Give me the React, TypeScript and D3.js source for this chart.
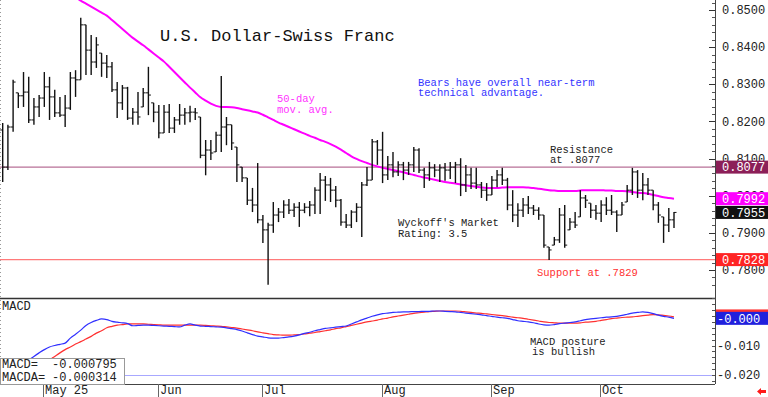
import React, { useEffect, useRef } from 'react';
import * as d3 from 'd3';

// daily USD/CHF bars, late April to late October
const opens = [
  0.8177, 0.8077, 0.8185, 0.8277, 0.8269, 0.8279, 0.8204, 0.8239, 0.8263, 0.8293,
  0.8266, 0.8223, 0.8217, 0.8236, 0.8317, 0.8312, 0.8460, 0.8392, 0.8360, 0.8384,
  0.8357, 0.8347, 0.8285, 0.8250, 0.8290, 0.8209, 0.8225, 0.8239, 0.8277, 0.8250,
  0.8225, 0.8169, 0.8225, 0.8182, 0.8204, 0.8217, 0.8223, 0.8225, 0.8212, 0.8109,
  0.8123, 0.8118, 0.8163, 0.8185, 0.8191, 0.8131, 0.8077, 0.8048, 0.7988, 0.7975,
  0.7935, 0.7908, 0.7921, 0.7948, 0.7956, 0.7975, 0.7961, 0.7969, 0.7961, 0.7969,
  0.7975, 0.8015, 0.8042, 0.8029, 0.8015, 0.7988, 0.7929, 0.7921, 0.7956, 0.7969,
  0.8029, 0.8042, 0.8145, 0.8123, 0.8056, 0.8083, 0.8064, 0.8083, 0.8069, 0.8083,
  0.8123, 0.8069, 0.8056, 0.8075, 0.8069, 0.8075, 0.8069, 0.8077, 0.8083, 0.8029,
  0.8056, 0.8034, 0.8029, 0.8015, 0.8002, 0.8042, 0.8056, 0.8042, 0.7975, 0.7948,
  0.7961, 0.7975, 0.7967, 0.7961, 0.7948, 0.7862, 0.7867, 0.7881, 0.7948, 0.7908,
  0.7929, 0.7943, 0.7994, 0.7980, 0.7961, 0.7953, 0.7975, 0.7961, 0.7956, 0.7948,
  0.7983, 0.8015, 0.8064, 0.8015, 0.8029, 0.8015, 0.7975, 0.7943, 0.7921, 0.7935,
];
const highs = [
  0.8196, 0.8191, 0.8312, 0.8277, 0.8333, 0.8320, 0.8263, 0.8271, 0.8333, 0.8320,
  0.8285, 0.8266, 0.8271, 0.8333, 0.8338, 0.8479, 0.8460, 0.8433, 0.8427, 0.8384,
  0.8379, 0.8360, 0.8306, 0.8298, 0.8293, 0.8236, 0.8279, 0.8290, 0.8347, 0.8250,
  0.8244, 0.8244, 0.8247, 0.8212, 0.8247, 0.8236, 0.8242, 0.8236, 0.8212, 0.8150,
  0.8150, 0.8172, 0.8322, 0.8212, 0.8191, 0.8131, 0.8077, 0.8048, 0.8021, 0.8088,
  0.7948, 0.7927, 0.7983, 0.7967, 0.7988, 0.7991, 0.7980, 0.7983, 0.7980, 0.7986,
  0.8023, 0.8061, 0.8053, 0.8048, 0.8026, 0.7991, 0.7951, 0.7961, 0.7980, 0.8037,
  0.8077, 0.8153, 0.8150, 0.8172, 0.8107, 0.8118, 0.8093, 0.8091, 0.8091, 0.8131,
  0.8128, 0.8075, 0.8091, 0.8085, 0.8085, 0.8088, 0.8091, 0.8091, 0.8101, 0.8083,
  0.8075, 0.8075, 0.8037, 0.8034, 0.8053, 0.8069, 0.8075, 0.8048, 0.8015, 0.7980,
  0.7994, 0.7999, 0.7975, 0.7969, 0.7948, 0.7862, 0.7889, 0.7967, 0.7975, 0.7940,
  0.7956, 0.8015, 0.8002, 0.7980, 0.7975, 0.7988, 0.7996, 0.8002, 0.7961, 0.7983,
  0.8029, 0.8075, 0.8069, 0.8061, 0.8048, 0.8015, 0.7983, 0.7943, 0.7967, 0.7956,
];
const lows = [
  0.8037, 0.8069, 0.8172, 0.8236, 0.8239, 0.8196, 0.8191, 0.8212, 0.8239, 0.8204,
  0.8212, 0.8212, 0.8185, 0.8231, 0.8266, 0.8312, 0.8325, 0.8325, 0.8344, 0.8320,
  0.8317, 0.8279, 0.8209, 0.8231, 0.8204, 0.8191, 0.8191, 0.8239, 0.8217, 0.8198,
  0.8155, 0.8169, 0.8169, 0.8169, 0.8191, 0.8191, 0.8198, 0.8204, 0.8101, 0.8055,
  0.8096, 0.8118, 0.8118, 0.8136, 0.8123, 0.8037, 0.8037, 0.7975, 0.7956, 0.7926,
  0.7873, 0.7760, 0.7900, 0.7929, 0.7940, 0.7951, 0.7943, 0.7916, 0.7953, 0.7945,
  0.7951, 0.7951, 0.7986, 0.7983, 0.7969, 0.7919, 0.7913, 0.7913, 0.7929, 0.7889,
  0.8026, 0.8042, 0.8083, 0.8034, 0.8042, 0.8050, 0.8053, 0.8042, 0.8056, 0.8064,
  0.8061, 0.8021, 0.8040, 0.8050, 0.8037, 0.8040, 0.8045, 0.8034, 0.7999, 0.8010,
  0.8018, 0.8018, 0.7994, 0.7986, 0.8002, 0.8023, 0.8029, 0.7961, 0.7929, 0.7916,
  0.7943, 0.7951, 0.7948, 0.7935, 0.7860, 0.7827, 0.7867, 0.7873, 0.7860, 0.7908,
  0.7913, 0.7943, 0.7967, 0.7940, 0.7935, 0.7929, 0.7948, 0.7948, 0.7902, 0.7948,
  0.7983, 0.8002, 0.7994, 0.7988, 0.8002, 0.7961, 0.7927, 0.7873, 0.7902, 0.7913,
];
const closes = [
  0.8077, 0.8185, 0.8306, 0.8269, 0.8279, 0.8204, 0.8239, 0.8263, 0.8293, 0.8266,
  0.8223, 0.8217, 0.8236, 0.8317, 0.8312, 0.8460, 0.8392, 0.8360, 0.8406, 0.8357,
  0.8347, 0.8285, 0.8250, 0.8290, 0.8209, 0.8225, 0.8212, 0.8277, 0.8271, 0.8225,
  0.8169, 0.8225, 0.8182, 0.8204, 0.8217, 0.8223, 0.8225, 0.8223, 0.8109, 0.8123,
  0.8115, 0.8163, 0.8185, 0.8191, 0.8142, 0.8083, 0.8048, 0.7988, 0.7975, 0.7935,
  0.7908, 0.7921, 0.7948, 0.7956, 0.7975, 0.7961, 0.7969, 0.7961, 0.7969, 0.7975,
  0.8015, 0.8042, 0.8029, 0.8015, 0.7988, 0.7929, 0.7921, 0.7956, 0.7969, 0.8029,
  0.8042, 0.8145, 0.8123, 0.8056, 0.8083, 0.8064, 0.8083, 0.8069, 0.8083, 0.8123,
  0.8069, 0.8056, 0.8075, 0.8069, 0.8075, 0.8069, 0.8077, 0.8083, 0.8029, 0.8056,
  0.8034, 0.8029, 0.8015, 0.8002, 0.8042, 0.8056, 0.8042, 0.7975, 0.7948, 0.7961,
  0.7975, 0.7967, 0.7961, 0.7948, 0.7867, 0.7854, 0.7881, 0.7948, 0.7867, 0.7929,
  0.7921, 0.7994, 0.7988, 0.7961, 0.7953, 0.7975, 0.7961, 0.7956, 0.7948, 0.7975,
  0.8015, 0.8064, 0.8015, 0.8029, 0.8015, 0.7975, 0.7948, 0.7921, 0.7935, 0.7955,
];

// 50-day moving average, first value belongs to bar maStart
const maStart = 14;
const ma50 = [
  0.8535, 0.8525, 0.8517, 0.8509, 0.8501, 0.8493, 0.8485, 0.8473, 0.8461, 0.8449,
  0.8437, 0.8425, 0.8415, 0.8405, 0.8394, 0.8383, 0.8372, 0.8361, 0.8347, 0.8333,
  0.8319, 0.8305, 0.8291, 0.8278, 0.8265, 0.8256, 0.8248, 0.8242, 0.8239, 0.8239,
  0.8238, 0.8236, 0.8233, 0.8230, 0.8227, 0.8224, 0.8218, 0.8211, 0.8204, 0.8197,
  0.8191, 0.8185, 0.8179, 0.8173, 0.8167, 0.8161, 0.8156, 0.8150, 0.8145, 0.8139,
  0.8132, 0.8124, 0.8115, 0.8106, 0.8099, 0.8093, 0.8088, 0.8083, 0.8079, 0.8075,
  0.8072, 0.8069, 0.8066, 0.8063, 0.8059, 0.8056, 0.8052, 0.8049, 0.8046, 0.8043,
  0.8040, 0.8037, 0.8035, 0.8033, 0.8030, 0.8028, 0.8026, 0.8024, 0.8022, 0.8021,
  0.8021, 0.8021, 0.8022, 0.8023, 0.8023, 0.8023, 0.8023, 0.8022, 0.8021, 0.8019,
  0.8017, 0.8015, 0.8014, 0.8013, 0.8013, 0.8013, 0.8013, 0.8014, 0.8015, 0.8015,
  0.8015, 0.8015, 0.8014, 0.8014, 0.8013, 0.8013, 0.8012, 0.8010, 0.8008, 0.8007,
  0.8005, 0.8002, 0.7999, 0.7996, 0.7994, 0.7992,
];

const macd = [
  -0.0210, -0.0200, -0.0188, -0.0175, -0.0162, -0.0150, -0.0137, -0.0125, -0.0114, -0.0105,
  -0.0100, -0.0096, -0.0092, -0.0075, -0.0062, -0.0048, -0.0032, -0.0022, -0.0015, -0.0010,
  -0.0012, -0.0018, -0.0021, -0.0023, -0.0026, -0.0033, -0.0032, -0.0031, -0.0031, -0.0032,
  -0.0033, -0.0034, -0.0035, -0.0036, -0.0037, -0.0031, -0.0027, -0.0031, -0.0034, -0.0035,
  -0.0036, -0.0037, -0.0038, -0.0040, -0.0043, -0.0046, -0.0051, -0.0057, -0.0063, -0.0068,
  -0.0071, -0.0074, -0.0075, -0.0075, -0.0073, -0.0071, -0.0068, -0.0064, -0.0059, -0.0055,
  -0.0050, -0.0046, -0.0042, -0.0040, -0.0038, -0.0036, -0.0034, -0.0027, -0.0020, -0.0013,
  -0.0007, -0.0001, 0.0004, 0.0008, 0.0010, 0.0012, 0.0013, 0.0014, 0.0014, 0.0015,
  0.0015, 0.0016, 0.0016, 0.0017, 0.0017, 0.0016, 0.0015, 0.0014, 0.0012, 0.0010,
  0.0008, 0.0006, 0.0004, 0.0001, -0.0001, -0.0004, -0.0006, -0.0008, -0.0012, -0.0016,
  -0.0018, -0.0020, -0.0023, -0.0027, -0.0030, -0.0031, -0.0029, -0.0026, -0.0024, -0.0022,
  -0.0020, -0.0016, -0.0012, -0.0010, -0.0008, -0.0006, -0.0004, -0.0003, -0.0001, 0.0002,
  0.0006, 0.0010, 0.0012, 0.0014, 0.0012, 0.0008, 0.0003, -0.0001, -0.0004, -0.0008,
];
const macdSignal = [
  -0.0235, -0.0228, -0.0220, -0.0210, -0.0199, -0.0189, -0.0180, -0.0172, -0.0160, -0.0149,
  -0.0137, -0.0125, -0.0114, -0.0105, -0.0095, -0.0087, -0.0078, -0.0069, -0.0058, -0.0050,
  -0.0040, -0.0035, -0.0031, -0.0029, -0.0027, -0.0027, -0.0027, -0.0027, -0.0028, -0.0029,
  -0.0030, -0.0031, -0.0031, -0.0031, -0.0031, -0.0031, -0.0031, -0.0031, -0.0031, -0.0032,
  -0.0033, -0.0034, -0.0035, -0.0037, -0.0039, -0.0041, -0.0044, -0.0047, -0.0050, -0.0054,
  -0.0057, -0.0060, -0.0063, -0.0064, -0.0065, -0.0065, -0.0064, -0.0063, -0.0061, -0.0058,
  -0.0056, -0.0053, -0.0050, -0.0047, -0.0043, -0.0040, -0.0036, -0.0032, -0.0028, -0.0024,
  -0.0020, -0.0017, -0.0014, -0.0010, -0.0007, -0.0003, 0.0000, 0.0003, 0.0006, 0.0009,
  0.0011, 0.0013, 0.0015, 0.0016, 0.0017, 0.0017, 0.0017, 0.0017, 0.0016, 0.0014,
  0.0012, 0.0010, 0.0009, 0.0007, 0.0005, 0.0003, 0.0001, -0.0001, -0.0004, -0.0006,
  -0.0008, -0.0011, -0.0014, -0.0017, -0.0020, -0.0022, -0.0023, -0.0024, -0.0024, -0.0024,
  -0.0024, -0.0023, -0.0021, -0.0020, -0.0018, -0.0015, -0.0012, -0.0009, -0.0007, -0.0005,
  -0.0004, -0.0003, -0.0001, 0.0001, 0.0003, 0.0005, 0.0004, 0.0002, 0.0000, -0.0003,
];
const macdReadout = -0.000795;
const macdaReadout = -0.000314;

const monthLabels = ['May 25', 'Jun', 'Jul', 'Aug', 'Sep', 'Oct'];
const monthStarts = [8, 30, 50, 73, 94, 115];

const priceTicks = [0.85, 0.84, 0.83, 0.82, 0.81, 0.80, 0.79, 0.78];
const macdTickValues = [-0.01, -0.02];
const macdTickLabels = ['-0.010', '-0.020'];

const resistance = 0.8077;
const support = 0.7828;

const FONT = '"Liberation Mono", "DejaVu Sans Mono", monospace';

function drawChart(node: SVGSVGElement) {
  const svg = d3.select(node);
  svg.selectAll('*').remove();

  const plotRight = 715;
  const priceBottom = 298;
  const macdBottom = 384;

  const x = d3.scaleLinear().domain([0, closes.length - 1]).range([2.7, 674]);
  const y = d3.scaleLinear().domain([0.78, 0.85]).range([270, 10]);
  const my = d3.scaleLinear().domain([-0.02, 0]).range([375, 316]);

  svg.append('rect').attr('width', 768).attr('height', 397).attr('fill', '#fff');

  const defs = svg.append('defs');
  defs.append('clipPath').attr('id', 'price-clip')
    .append('rect').attr('x', 0).attr('y', 0).attr('width', plotRight).attr('height', priceBottom);
  defs.append('clipPath').attr('id', 'macd-clip')
    .append('rect').attr('x', 0).attr('y', priceBottom + 1).attr('width', plotRight).attr('height', macdBottom - priceBottom - 1);

  // left dotted edge
  svg.append('line')
    .attr('x1', 0.5).attr('x2', 0.5).attr('y1', 0).attr('y2', macdBottom)
    .attr('stroke', '#999').attr('stroke-dasharray', '1,3');

  const price = svg.append('g').attr('clip-path', 'url(#price-clip)');

  // resistance / support
  price.append('line')
    .attr('x1', 0).attr('x2', plotRight).attr('y1', y(resistance)).attr('y2', y(resistance))
    .attr('stroke', '#b87097').attr('stroke-width', 1.2);
  price.append('line')
    .attr('x1', 0).attr('x2', plotRight).attr('y1', y(support)).attr('y2', y(support))
    .attr('stroke', '#ff7a7a').attr('stroke-width', 1.2);

  // 50-day MA
  const maLine = d3.line<number>()
    .x((d, i) => x(i + maStart))
    .y(d => y(d))
    .curve(d3.curveMonotoneX);
  price.append('path')
    .attr('d', maLine(ma50))
    .attr('fill', 'none').attr('stroke', '#ff00ff').attr('stroke-width', 2);

  // OHLC bars
  const bars = closes.map((c, i) => ({ i, o: opens[i], h: highs[i], l: lows[i], c }));
  const bg = price.append('g').attr('stroke', '#111').attr('stroke-width', 1.4);
  bg.selectAll('line.hl').data(bars).join('line').attr('class', 'hl')
    .attr('x1', d => x(d.i)).attr('x2', d => x(d.i))
    .attr('y1', d => y(d.h)).attr('y2', d => y(d.l));
  bg.selectAll('line.o').data(bars).join('line').attr('class', 'o')
    .attr('x1', d => x(d.i) - 2.5).attr('x2', d => x(d.i))
    .attr('y1', d => y(d.o)).attr('y2', d => y(d.o))
    .attr('stroke-width', 1);
  bg.selectAll('line.c').data(bars).join('line').attr('class', 'c')
    .attr('x1', d => x(d.i)).attr('x2', d => x(d.i) + 2.5)
    .attr('y1', d => y(d.c)).attr('y2', d => y(d.c))
    .attr('stroke-width', 1);

  // MACD panel
  const macdG = svg.append('g').attr('clip-path', 'url(#macd-clip)');
  macdG.append('line')
    .attr('x1', 0).attr('x2', plotRight).attr('y1', my(-0.02) + 0.5).attr('y2', my(-0.02) + 0.5)
    .attr('stroke', '#a8a8ff');
  const macdLine = d3.line<number>().x((d, i) => x(i)).y(d => my(d)).curve(d3.curveMonotoneX);
  macdG.append('path').attr('d', macdLine(macdSignal))
    .attr('fill', 'none').attr('stroke', '#ff3030').attr('stroke-width', 1.2);
  macdG.append('path').attr('d', macdLine(macd))
    .attr('fill', 'none').attr('stroke', '#3030ff').attr('stroke-width', 1.2);

  // frame lines
  svg.append('line').attr('x1', 0).attr('x2', plotRight).attr('y1', priceBottom + 0.5).attr('y2', priceBottom + 0.5)
    .attr('stroke', '#333').attr('stroke-width', 1.5);
  svg.append('line').attr('x1', 0).attr('x2', plotRight).attr('y1', macdBottom + 0.5).attr('y2', macdBottom + 0.5)
    .attr('stroke', '#444');
  svg.append('line').attr('x1', plotRight + 0.5).attr('x2', plotRight + 0.5).attr('y1', 0).attr('y2', macdBottom)
    .attr('stroke', '#444');

  // right price axis ticks
  const minorPrice = d3.range(0.776, 0.853, 0.002).filter(d => y(d) > 0 && y(d) < priceBottom);
  svg.append('g').selectAll('line').data(minorPrice).join('line')
    .attr('x1', plotRight - 3).attr('x2', plotRight)
    .attr('y1', d => Math.round(y(d)) + 0.5).attr('y2', d => Math.round(y(d)) + 0.5)
    .attr('stroke', '#555');
  svg.append('g').selectAll('line').data(priceTicks).join('line')
    .attr('x1', plotRight - 6).attr('x2', plotRight)
    .attr('y1', d => Math.round(y(d)) + 0.5).attr('y2', d => Math.round(y(d)) + 0.5)
    .attr('stroke', '#333');
  svg.append('g').selectAll('text').data(priceTicks).join('text')
    .attr('x', 722).attr('y', d => y(d)).attr('dy', '0.35em')
    .attr('font-family', FONT).attr('font-size', 12).attr('fill', '#222')
    .text(d => d.toFixed(4));

  // value boxes on price axis (drawn over the tick labels, as in the original)
  const priceBoxes = [
    { v: resistance, fill: '#8c1f58' },
    { v: ma50[ma50.length - 1], fill: '#ff00ff' },
    { v: closes[closes.length - 1], fill: '#111' },
    { v: support, fill: '#ff2424' },
  ];
  const pb = svg.append('g').selectAll('g').data(priceBoxes).join('g');
  pb.append('rect')
    .attr('x', plotRight + 1).attr('width', 768 - plotRight - 1)
    .attr('y', d => y(d.v) - 6.5).attr('height', 13)
    .attr('fill', d => d.fill);
  pb.append('text')
    .attr('x', 722).attr('y', d => y(d.v)).attr('dy', '0.35em')
    .attr('font-family', FONT).attr('font-size', 12).attr('fill', '#fff')
    .text(d => d.v.toFixed(4));

  // MACD axis ticks
  const minorMacd = d3.range(-0.022, 0.0061, 0.002);
  svg.append('g').selectAll('line').data(minorMacd).join('line')
    .attr('x1', plotRight - 3).attr('x2', plotRight)
    .attr('y1', d => Math.round(my(d)) + 0.5).attr('y2', d => Math.round(my(d)) + 0.5)
    .attr('stroke', '#555');
  svg.append('g').selectAll('text').data(macdTickValues).join('text')
    .attr('x', 717).attr('y', d => my(d)).attr('dy', '0.35em')
    .attr('font-family', FONT).attr('font-size', 12).attr('fill', '#222')
    .text((d, i) => macdTickLabels[i]);

  const trunc3 = (v: number) => (v < 0 ? '-' : '') + Math.abs(Math.trunc(v * 1000) / 1000).toFixed(3);
  svg.append('rect').attr('x', plotRight + 1).attr('width', 768 - plotRight - 1)
    .attr('y', my(macdaReadout) - 7.5).attr('height', 13).attr('fill', '#ff3030');
  svg.append('rect').attr('x', plotRight + 1).attr('width', 768 - plotRight - 1)
    .attr('y', my(macdReadout) - 6.5).attr('height', 13).attr('fill', '#2020dd');
  svg.append('text').attr('x', 717).attr('y', my(macdReadout)).attr('dy', '0.35em')
    .attr('font-family', FONT).attr('font-size', 12).attr('fill', '#fff')
    .text(trunc3(macdReadout));

  // red arrow, bottom right
  svg.append('path')
    .attr('d', 'M757,391.5 L761,388 L761,390 L766,390 L766,393 L761,393 L761,395 Z')
    .attr('fill', '#ff1a1a');

  // month axis
  const months = monthLabels.map((label, k) => ({ label, xi: Math.round(x(monthStarts[k])) }));
  const mg = svg.append('g').selectAll('g').data(months).join('g');
  mg.append('line')
    .attr('x1', d => d.xi - 0.5).attr('x2', d => d.xi - 0.5)
    .attr('y1', macdBottom).attr('y2', 397).attr('stroke', '#666');
  mg.append('text')
    .attr('x', d => d.xi + 1).attr('y', 390).attr('dy', '0.35em')
    .attr('font-family', FONT).attr('font-size', 12).attr('fill', '#222')
    .text(d => d.label);

  // texts
  const label = (tx: number, ty: number, str: string, color: string, size = 10.5) =>
    svg.append('text').attr('x', tx).attr('y', ty).attr('dy', '0.35em')
      .attr('font-family', FONT).attr('font-size', size).attr('fill', color).text(str);

  label(160, 35, 'U.S. Dollar-Swiss Franc', '#111', 17);
  label(277, 98, '50-day', '#ff33ff');
  label(277, 109, 'mov. avg.', '#ff33ff');
  label(418, 82, 'Bears have overall near-term', '#3434ff');
  label(418, 92.5, 'technical advantage.', '#3434ff');
  label(550, 149, 'Resistance', '#222');
  label(550, 159.5, 'at .8077', '#222');
  label(398, 222.5, "Wyckoff's Market", '#222');
  label(398, 233, 'Rating: 3.5', '#222');
  label(537, 272, 'Support at .7829', '#ff3030');
  label(530, 341, 'MACD posture', '#222');
  label(532, 351, 'is bullish', '#222');
  label(2, 306, 'MACD', '#222', 12);

  // readout box
  svg.append('rect').attr('x', 0.5).attr('y', 358.5).attr('width', 124).attr('height', 26)
    .attr('fill', '#fff').attr('stroke', '#999');
  label(2, 364, 'MACD=', '#222', 12);
  label(2, 377, 'MACDA=', '#222', 12);
  label(52, 364, macdReadout.toFixed(6), '#222', 12);
  label(52, 377, macdaReadout.toFixed(6), '#222', 12);
}

export default function App() {
  const ref = useRef<SVGSVGElement>(null);

  useEffect(() => {
    if (ref.current) drawChart(ref.current);
  }, []);

  return (
    <div style={{ position: 'absolute', left: 0, top: 0 }}>
      <svg ref={ref} width={768} height={397} style={{ display: 'block' }} />
    </div>
  );
}
